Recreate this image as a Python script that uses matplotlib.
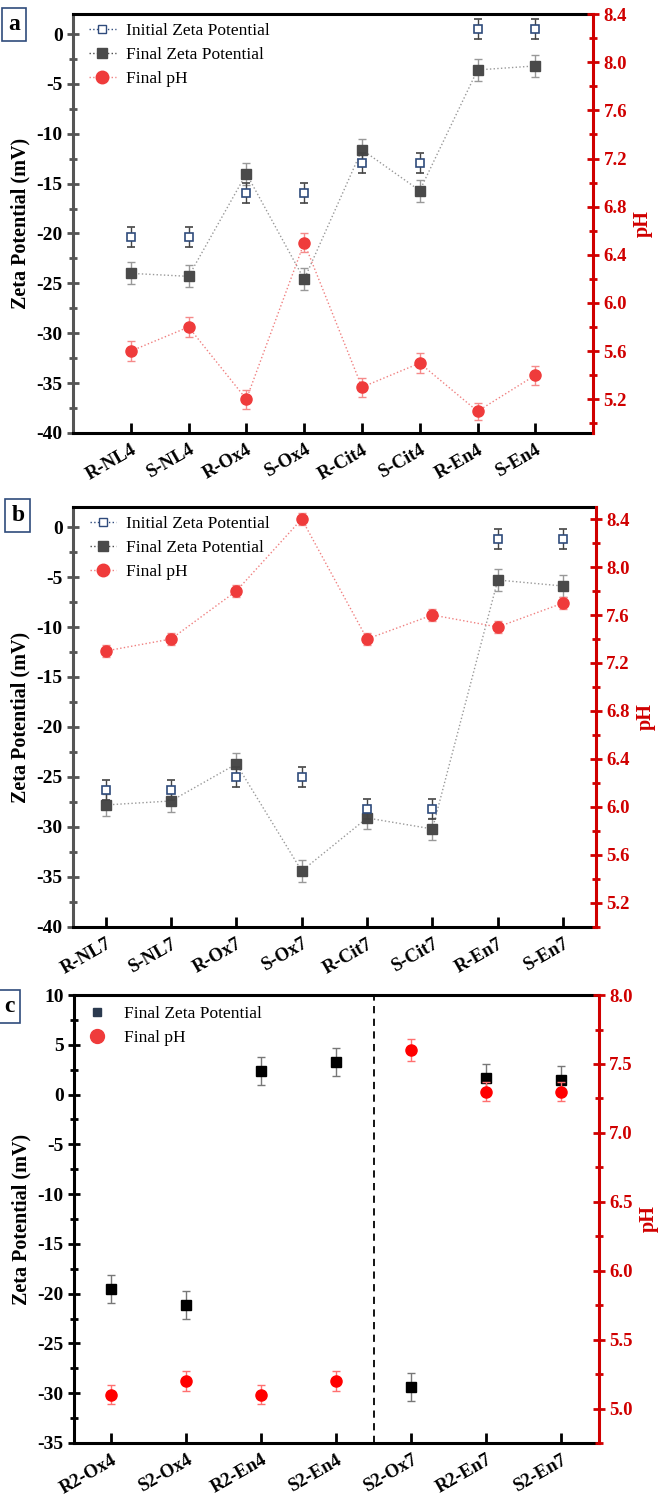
import matplotlib
matplotlib.use('Agg')
import matplotlib.pyplot as plt
from matplotlib.ticker import MultipleLocator
from matplotlib.lines import Line2D

plt.rcParams['font.family'] = ['Liberation Serif', 'DejaVu Serif']
plt.rcParams['axes.unicode_minus'] = False

# panel a data
cats_a = ['R-NL4', 'S-NL4', 'R-Ox4', 'S-Ox4', 'R-Cit4', 'S-Cit4', 'R-En4', 'S-En4']
init_a = [-20.4, -20.4, -15.9, -15.9, -12.9, -12.9, 0.5, 0.5]
init_err_a = [1.0, 1.0, 1.0, 1.0, 1.0, 1.0, 1.0, 1.0]
final_a = [-24.0, -24.3, -14.0, -24.6, -11.6, -15.7, -3.6, -3.2]
final_err_a = [1.1, 1.1, 1.1, 1.1, 1.1, 1.1, 1.1, 1.1]
ph_a = [5.6, 5.8, 5.2, 6.5, 5.3, 5.5, 5.1, 5.4]
ph_err_a = [0.08, 0.08, 0.08, 0.08, 0.08, 0.08, 0.07, 0.08]

# panel b data
cats_b = ['R-NL7', 'S-NL7', 'R-Ox7', 'S-Ox7', 'R-Cit7', 'S-Cit7', 'R-En7', 'S-En7']
init_b = [-26.3, -26.3, -25.0, -25.0, -28.2, -28.2, -1.2, -1.2]
init_err_b = [1.0, 1.0, 1.0, 1.0, 1.0, 1.0, 1.0, 1.0]
final_b = [-27.8, -27.4, -23.7, -34.4, -29.1, -30.2, -5.3, -5.9]
final_err_b = [1.1, 1.1, 1.1, 1.1, 1.1, 1.1, 1.1, 1.1]
ph_b = [7.3, 7.4, 7.8, 8.4, 7.4, 7.6, 7.5, 7.7]
ph_err_b = [0.05, 0.05, 0.05, 0.05, 0.05, 0.05, 0.05, 0.05]

# panel c data
cats_c = ['R2-Ox4', 'S2-Ox4', 'R2-En4', 'S2-En4', 'S2-Ox7', 'R2-En7', 'S2-En7']
final_c = [-19.5, -21.1, 2.4, 3.3, -29.4, 1.7, 1.5]
final_err_c = [1.4, 1.4, 1.4, 1.4, 1.4, 1.4, 1.4]
ph_c = [5.1, 5.2, 5.1, 5.2, 7.6, 7.3, 7.3]
ph_err_c = [0.07, 0.07, 0.07, 0.07, 0.08, 0.07, 0.07]

RED_AX = '#d00000'


def style_axes(ax, ax2, left_color):
    for s in ['top', 'bottom']:
        ax.spines[s].set_linewidth(2.2)
        ax.spines[s].set_color('black')
    ax.spines['left'].set_linewidth(2.2)
    ax.spines['left'].set_color(left_color)
    ax.spines['right'].set_visible(False)
    ax2.spines['right'].set_linewidth(2.2)
    ax2.spines['right'].set_color(RED_AX)
    for s in ['top', 'bottom', 'left']:
        ax2.spines[s].set_visible(False)
    ax.tick_params(axis='y', which='major', direction='inout', length=8, width=2, color=left_color)
    ax.tick_params(axis='y', which='minor', direction='inout', length=6, width=2, color=left_color)
    ax.tick_params(axis='x', which='major', direction='in', length=7, width=2, color='black', pad=6)
    ax2.tick_params(axis='y', which='major', direction='inout', length=8, width=2, color=RED_AX,
                    labelcolor=RED_AX)
    ax2.tick_params(axis='y', which='minor', direction='inout', length=6, width=2, color=RED_AX)
    for lab in ax.get_yticklabels():
        lab.set_fontweight('bold')
        lab.set_fontsize(14)
    for lab in ax.get_xticklabels():
        lab.set_fontweight('bold')
        lab.set_fontsize(13.5)
    for lab in ax2.get_yticklabels():
        lab.set_fontweight('bold')
        lab.set_fontsize(13.5)
    ax.set_ylabel('Zeta Potential (mV)', fontsize=14.5, fontweight='bold')
    ax2.set_ylabel('pH', fontsize=14.5, fontweight='bold', color=RED_AX)


def draw_ab(ax, cats, init, init_err, final, final_err, ph, ph_err, ph_lim, xlim):
    ax2 = ax.twinx()
    x = list(range(len(cats)))
    ax.errorbar(x, init, yerr=init_err, fmt='s', ms=6, mfc='white', mec='#2f4b7c', mew=1.2,
                ecolor='#444444', elinewidth=1, capsize=3, zorder=4)
    ax.plot(x, final, ':', color='#999999', lw=1, zorder=2)
    ax.errorbar(x, final, yerr=final_err, fmt='s', ms=7, color='#4a4a4a',
                ecolor='#999999', elinewidth=1, capsize=3, zorder=3)
    ax2.plot(x, ph, ':', color='#f08080', lw=1, zorder=2)
    ax2.errorbar(x, ph, yerr=ph_err, fmt='o', ms=8, color='#ef3b3b',
                 ecolor='#f58a8a', elinewidth=1, capsize=3, zorder=3)
    ax.set_xlim(*xlim)
    ax.set_ylim(-40, 2)
    ax2.set_ylim(*ph_lim)
    ax.set_xticks(x)
    ax.set_xticklabels(cats, rotation=30, ha='right', rotation_mode='anchor')
    ax.yaxis.set_major_locator(MultipleLocator(5))
    ax.yaxis.set_minor_locator(MultipleLocator(2.5))
    ax2.yaxis.set_major_locator(MultipleLocator(0.4))
    ax2.yaxis.set_minor_locator(MultipleLocator(0.2))
    style_axes(ax, ax2, '#555555')
    handles = [
        Line2D([], [], ls=':', color='#2f4b7c', lw=1, marker='s', ms=6, mfc='white', mec='#2f4b7c'),
        Line2D([], [], ls=':', color='#4a4a4a', lw=1, marker='s', ms=7),
        Line2D([], [], ls=':', color='#f08080', lw=1, marker='o', ms=9, mfc='#ef3b3b', mec='#ef3b3b'),
    ]
    ax.legend(handles, ['Initial Zeta Potential', 'Final Zeta Potential', 'Final pH'],
              loc='upper left', bbox_to_anchor=(0.015, 1.0), frameon=False, fontsize=12.5,
              handlelength=1.5, handletextpad=0.6, labelspacing=0.45, borderaxespad=0.1)
    return ax2


fig = plt.figure(figsize=(6.66, 14.97), dpi=100)

ax_a = fig.add_axes([0.1096, 0.7108, 0.781, 0.2798])
draw_ab(ax_a, cats_a, init_a, init_err_a, final_a, final_err_a, ph_a, ph_err_a,
        (4.92, 8.4), (-1, 8))

ax_b = fig.add_axes([0.1096, 0.3808, 0.785, 0.2805])
draw_ab(ax_b, cats_b, init_b, init_err_b, final_b, final_err_b, ph_b, ph_err_b,
        (5.0, 8.5), (-0.5, 7.5))

# panel c
ax_c = fig.add_axes([0.111, 0.0361, 0.788, 0.2992])
ax_c2 = ax_c.twinx()
xc = list(range(len(cats_c)))
ax_c.errorbar(xc, final_c, yerr=final_err_c, fmt='s', ms=7, color='black',
              ecolor='#777777', elinewidth=1, capsize=3, zorder=3)
ax_c2.errorbar(xc, ph_c, yerr=ph_err_c, fmt='o', ms=8, color='#ff0000',
               ecolor='#ff7070', elinewidth=1, capsize=3, zorder=3)
ax_c.axvline(3.5, color='black', ls=(0, (4, 3)), lw=1.3)
ax_c.set_xlim(-0.5, 6.5)
ax_c.set_ylim(-35, 10)
ax_c2.set_ylim(4.75, 8.0)
ax_c.set_xticks(xc)
ax_c.set_xticklabels(cats_c, rotation=30, ha='right', rotation_mode='anchor')
ax_c.yaxis.set_major_locator(MultipleLocator(5))
ax_c.yaxis.set_minor_locator(MultipleLocator(2.5))
ax_c2.yaxis.set_major_locator(MultipleLocator(0.5))
ax_c2.yaxis.set_minor_locator(MultipleLocator(0.25))
style_axes(ax_c, ax_c2, 'black')
handles_c = [
    Line2D([], [], ls='none', marker='s', ms=6, color='#2b3a4f'),
    Line2D([], [], ls='none', marker='o', ms=10, color='#ef3b3b'),
]
ax_c.legend(handles_c, ['Final Zeta Potential', 'Final pH'], loc='upper left',
            frameon=False, fontsize=12.5, handlelength=1.5, handletextpad=0.8,
            labelspacing=0.5, borderaxespad=0.2)

# panel letters
box = dict(boxstyle='square,pad=0.25', facecolor='white', edgecolor='#2f4b7c', lw=1.2)
fig.text(0.012, 0.9905, 'a', fontsize=17, fontweight='bold', va='top', ha='left', bbox=box)
fig.text(0.017, 0.6625, 'b', fontsize=17, fontweight='bold', va='top', ha='left', bbox=box)
fig.text(0.006, 0.3345, 'c', fontsize=17, fontweight='bold', va='top', ha='left', bbox=box)

fig.savefig('out.png', dpi=100)
